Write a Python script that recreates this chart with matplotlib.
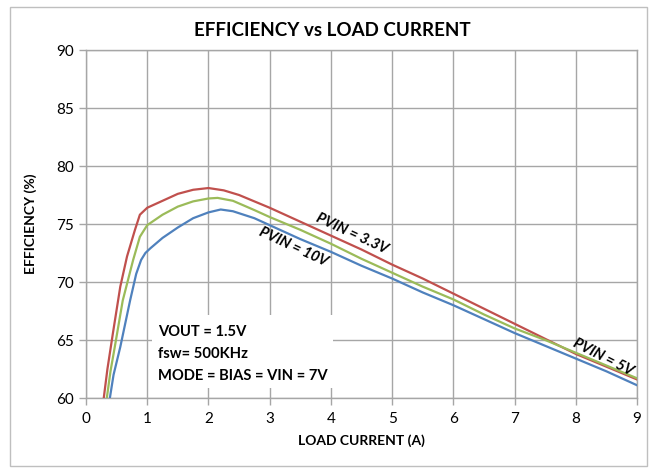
import matplotlib
matplotlib.use("Agg")
import matplotlib.pyplot as plt
from matplotlib.patches import Rectangle

plt.rcParams['font.family'] = ['Lato', 'DejaVu Sans']

# ---- data ----
x_33 = [0.29, 0.35, 0.44, 0.56, 0.67, 0.80, 0.88, 1.0, 1.25, 1.5, 1.75, 2.0, 2.25, 2.5, 3.0, 3.5,
        4.0, 4.5, 5.0, 5.5, 6.0, 6.5, 7.0, 7.5, 8.0, 8.5, 9.0]
eff_33 = [60.0, 62.5, 65.6, 69.6, 72.2, 74.5, 75.8, 76.4, 77.0, 77.6, 77.95, 78.1, 77.9, 77.5, 76.4, 75.2,
          74.0, 72.8, 71.5, 70.3, 69.0, 67.7, 66.4, 65.1, 63.8, 62.7, 61.6]

x_5 = [0.34, 0.40, 0.47, 0.60, 0.77, 0.88, 1.0, 1.25, 1.5, 1.75, 2.0, 2.15, 2.4, 2.75, 3.0, 3.5,
       4.0, 4.5, 5.0, 5.5, 6.0, 6.5, 7.0, 7.5, 8.0, 8.5, 9.0]
eff_5 = [60.0, 62.3, 64.4, 68.4, 71.9, 73.9, 74.9, 75.8, 76.5, 76.95, 77.2, 77.25, 77.0, 76.2, 75.6, 74.5,
         73.3, 72.0, 70.8, 69.6, 68.5, 67.2, 66.0, 65.0, 63.9, 62.8, 61.7]

x_10 = [0.39, 0.45, 0.56, 0.72, 0.82, 0.90, 0.97, 1.05, 1.25, 1.5, 1.75, 2.0, 2.2, 2.4, 2.75, 3.0, 3.5,
        4.0, 4.5, 5.0, 5.5, 6.0, 6.5, 7.0, 7.5, 8.0, 8.5, 9.0]
eff_10 = [60.0, 62.0, 64.4, 68.4, 70.7, 71.9, 72.5, 72.9, 73.8, 74.7, 75.5, 76.0, 76.25, 76.1, 75.5, 74.9, 73.7,
          72.6, 71.4, 70.3, 69.1, 68.0, 66.8, 65.6, 64.5, 63.4, 62.3, 61.1]

x_ticks = [0, 1, 2, 3, 4, 5, 6, 7, 8, 9]
y_ticks = [60, 65, 70, 75, 80, 85, 90]

title = "EFFICIENCY vs LOAD CURRENT"
x_label = "LOAD CURRENT (A)"
y_label = "EFFICIENCY (%)"
note_lines = ["VOUT = 1.5V", "fsw= 500KHz", "MODE = BIAS = VIN = 7V"]

# ---- figure ----
fig = plt.figure(figsize=(6.57, 4.68), dpi=100)
fig.patches.append(Rectangle((10/657, 2/468), 637/657, 459/468, transform=fig.transFigure,
                             fill=False, edgecolor='#BFBFBF', linewidth=1.0))
ax = fig.add_axes([86/657, 1 - 398/468, 551/657, 348/468])

grid_c = '#A6A6A6'
ax.set_xlim(0, 9)
ax.set_ylim(60, 90)
ax.set_xticks(x_ticks)
ax.set_yticks(y_ticks)
ax.grid(True, color=grid_c, linewidth=1.0)
ax.set_axisbelow(True)
for s in ax.spines.values():
    s.set_color(grid_c)
    s.set_linewidth(1.0)
ax.tick_params(axis='both', colors=grid_c, length=5, width=1.0, labelsize=11, labelcolor='black')
ax.tick_params(axis='x', pad=5)

ax.plot(x_33, eff_33, color='#C0504D', linewidth=1.6, zorder=3)
ax.plot(x_5, eff_5, color='#9BBB59', linewidth=1.6, zorder=3)
ax.plot(x_10, eff_10, color='#4F81BD', linewidth=1.6, zorder=3)

fig.text(332/657, 1 - 30/468, title, fontsize=13.5, fontweight='bold', ha='center', va='center')
ax.set_xlabel(x_label, fontsize=10, fontweight='bold', labelpad=6)
ax.set_ylabel(y_label, fontsize=10, fontweight='bold', labelpad=14)

# curve labels
ax.text(4.35, 74.2, "PVIN = 3.3V", rotation=-25, fontsize=10.5, fontweight='bold',
        ha='center', va='center', style='italic', zorder=4)
ax.text(3.38, 73.0, "PVIN = 10V", rotation=-25, fontsize=10.5, fontweight='bold',
        ha='center', va='center', style='italic', zorder=4)
ax.text(8.45, 63.5, "PVIN = 5V", rotation=-27, fontsize=10.5, fontweight='bold',
        ha='center', va='center', style='italic', zorder=4)

# annotation box
ax.add_patch(Rectangle((1.078, 60.86), 2.96, 6.3, facecolor='white', edgecolor='none', zorder=2))
for i, line in enumerate(note_lines):
    ax.text(1.18, 65.7 - i * 1.9, line, fontsize=10.6, fontweight='bold', ha='left', va='center', zorder=4)

fig.savefig("out.png", dpi=100)
